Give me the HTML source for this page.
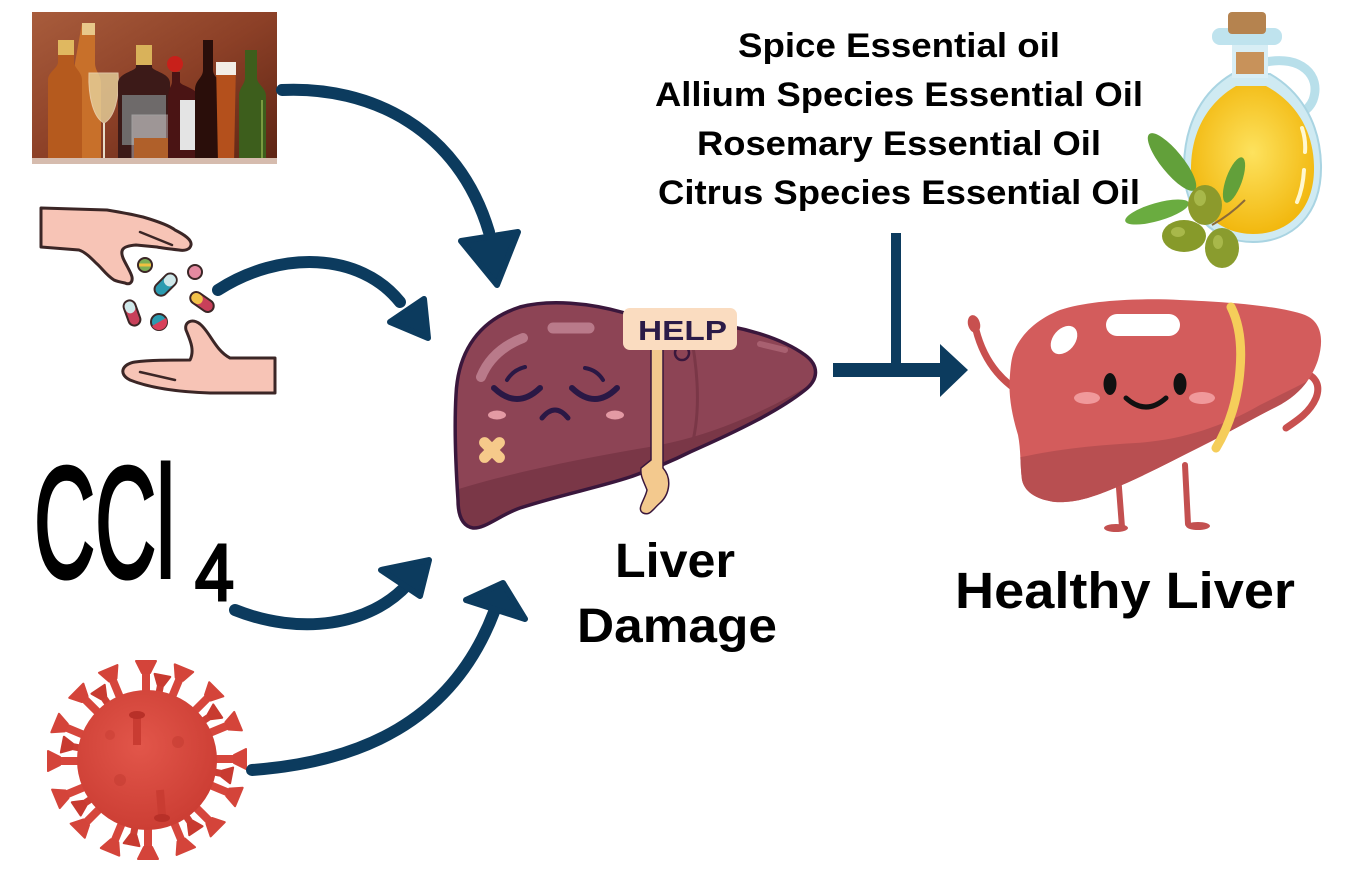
<!DOCTYPE html>
<html>
<head>
<meta charset="utf-8">
<style>
html,body{margin:0;padding:0;background:#fff;}
svg{display:block;}
</style>
</head>
<body>
<svg width="1368" height="884" viewBox="0 0 1368 884" xmlns="http://www.w3.org/2000/svg">
<defs>
  <linearGradient id="bg1" x1="0" y1="0" x2="1" y2="1">
    <stop offset="0" stop-color="#a85c3c"/>
    <stop offset="0.5" stop-color="#8c4027"/>
    <stop offset="1" stop-color="#5c2414"/>
  </linearGradient>
  <radialGradient id="vg" cx="0.45" cy="0.4" r="0.6">
    <stop offset="0" stop-color="#e2564a"/>
    <stop offset="1" stop-color="#cc3e34"/>
  </radialGradient>
  <radialGradient id="oil" cx="0.5" cy="0.45" r="0.55">
    <stop offset="0" stop-color="#fde25e"/>
    <stop offset="1" stop-color="#f2b80f"/>
  </radialGradient>
  <clipPath id="sl">
    <path d="M473,528 C462,526 458,515 458,500 C456,470 454,430 456,395 C458,350 480,320 520,307 C550,299 590,303 625,313 L700,322 C740,326 780,337 805,355 C820,366 818,380 805,390 C780,410 740,430 690,452 C670,462 650,470 630,477 C600,487 560,495 520,508 C500,515 485,529 473,528 Z"/>
  </clipPath>
  <clipPath id="hl">
    <path d="M1016,347 C1025,330 1040,318 1060,310 C1090,300 1140,298 1180,300 C1230,302 1280,306 1305,315 C1322,322 1324,340 1318,360 C1312,378 1300,395 1276,407 C1250,420 1230,432 1200,447 C1170,462 1140,478 1110,490 C1090,498 1075,503 1055,502 C1040,500 1025,494 1022,480 C1020,465 1021,450 1018,435 C1012,415 1008,395 1010,375 C1011,362 1012,355 1016,347 Z"/>
  </clipPath>
  <g id="spk">
    <line x1="200" y1="759" x2="238" y2="759" stroke="#d6463c" stroke-width="8"/>
    <path d="M234,755 L246,749 L246,769 L234,763 Z" fill="#d4443a" stroke="#d4443a" stroke-width="2" stroke-linejoin="round"/>
  </g>
  <g id="spk2">
    <line x1="200" y1="759" x2="226" y2="759" stroke="#cc3e34" stroke-width="7"/>
    <path d="M223,756 L233,751 L233,767 L223,762 Z" fill="#c83a30" stroke="#c83a30" stroke-width="2" stroke-linejoin="round"/>
  </g>
</defs>

<rect width="1368" height="884" fill="#fff"/>

<!-- Bottles photo -->
<rect x="32" y="12" width="245" height="152" fill="url(#bg1)"/>
<path d="M82,23 h13 v40 c0,8 6,12 6,20 v80 h-32 v-80 c0,-8 6,-12 6,-20 z" fill="#c8702a"/>
<rect x="82" y="23" width="13" height="12" fill="#e8c88a"/>
<path d="M58,40 h16 v22 c0,6 8,10 8,18 v83 h-34 v-83 c0,-8 10,-12 10,-18 z" fill="#b55a1e"/>
<rect x="58" y="40" width="16" height="15" fill="#e0b860"/>
<path d="M89,73 h29 c2,25 -4,45 -14,50 c-10,-5 -16,-25 -15,-50 z" fill="#e6d29c" opacity="0.8" stroke="#f0e0c0" stroke-width="1"/>
<line x1="104" y1="123" x2="104" y2="160" stroke="#e8dcc8" stroke-width="2"/>
<path d="M136,45 h16 v22 c0,4 18,6 18,16 v80 h-52 v-80 c0,-10 18,-12 18,-16 z" fill="#3c1a18"/>
<rect x="122" y="95" width="44" height="50" fill="#6e6a6a"/>
<rect x="136" y="45" width="16" height="20" fill="#d9b25a"/>
<rect x="132" y="115" width="47" height="48" fill="#d8cccc" opacity="0.45" stroke="#ddd" stroke-width="1"/>
<rect x="134" y="138" width="43" height="24" fill="#b0602a"/>
<path d="M172,72 h8 v10 c0,4 20,6 20,18 v63 h-32 v-63 c0,-12 4,-14 4,-18 z" fill="#4a1414"/>
<rect x="180" y="100" width="18" height="50" fill="#e4e4e4"/>
<circle cx="175" cy="64" r="8" fill="#c8201a"/>
<path d="M203,40 h10 v30 c0,8 10,10 10,20 v73 h-28 v-73 c0,-10 8,-12 8,-20 z" fill="#2a0e0a"/>
<path d="M216,62 h20 l-2,101 h-16 z" fill="#b4501c"/>
<rect x="216" y="62" width="20" height="13" fill="#f2ede6"/>
<path d="M245,50 h12 v28 c0,6 9,10 9,18 v67 h-27 v-67 c0,-8 6,-12 6,-18 z" fill="#3d5e1c"/>
<line x1="262" y1="100" x2="262" y2="158" stroke="#7a9a40" stroke-width="2"/>
<rect x="32" y="158" width="245" height="6" fill="#d6bcae"/>

<!-- Hands with pills -->
<path d="M41,208 L107,210 C125,213 135,215 143,217 C160,222 170,226 175,230 C185,235 192,240 191,245 C190,250 184,251 179,250 C170,249 162,248 157,247 L136,245 C122,246 120,250 123,258 C126,265 131,272 132,277 C133,283 129,285 125,283 C120,282 116,281 114,280 C106,275 102,268 96,263 C90,257 85,252 79,250 L41,247 Z" fill="#f7c4b6" stroke="#3b2626" stroke-width="3" stroke-linejoin="round"/>
<path d="M140,232 L172,245" stroke="#3b2626" stroke-width="2.5" fill="none" stroke-linecap="round"/>
<path d="M275,358 L275,393 L210,393 C180,392 150,388 130,380 C118,374 122,364 135,362 C150,360 170,360 190,360 C195,350 190,340 186,330 C184,322 192,318 200,324 C210,332 215,350 230,358 Z" fill="#f7c4b6" stroke="#3b2626" stroke-width="3" stroke-linejoin="round"/>
<path d="M140,372 L175,380" stroke="#3b2626" stroke-width="2.5" fill="none" stroke-linecap="round"/>
<!-- pills -->
<circle cx="145" cy="265" r="7" fill="#7cae55" stroke="#3b2626" stroke-width="2"/>
<line x1="139" y1="265" x2="151" y2="265" stroke="#f0c040" stroke-width="3"/>
<circle cx="195" cy="272" r="7" fill="#e58aa0" stroke="#3b2626" stroke-width="2"/>
<g transform="rotate(-45 166 285)">
  <rect x="153" y="278" width="26" height="13" rx="6.5" fill="#2b9bb0" stroke="#3b2626" stroke-width="2"/>
  <rect x="166" y="279" width="12" height="11" rx="5" fill="#cfe8ea"/>
</g>
<g transform="rotate(35 202 302)">
  <rect x="189" y="296" width="26" height="12" rx="6" fill="#c8405a" stroke="#3b2626" stroke-width="2"/>
  <rect x="190" y="297" width="12" height="10" rx="5" fill="#f2c24a"/>
</g>
<g transform="rotate(70 132 313)">
  <rect x="119" y="307" width="26" height="12" rx="6" fill="#c8405a" stroke="#3b2626" stroke-width="2"/>
  <rect x="120" y="308" width="12" height="10" rx="5" fill="#cfe8ea"/>
</g>
<circle cx="159" cy="322" r="8" fill="#2b9bb0" stroke="#3b2626" stroke-width="2"/>
<path d="M152,326 A8,8 0 0 0 166,318 Z" fill="#d8405a"/>

<!-- CCl4 -->
<text x="34" y="577" font-family="'Liberation Sans', sans-serif" font-size="158" textLength="141" lengthAdjust="spacingAndGlyphs" fill="#000" stroke="#000" stroke-width="4">CCl</text>
<text x="195" y="600" font-family="'Liberation Sans', sans-serif" font-size="80" textLength="39" lengthAdjust="spacingAndGlyphs" fill="#000" stroke="#000" stroke-width="3">4</text>

<!-- Virus -->
<g>
  <use href="#spk2" transform="rotate(11 147 760)"/>
  <use href="#spk2" transform="rotate(56 147 760)"/>
  <use href="#spk2" transform="rotate(101 147 760)"/>
  <use href="#spk2" transform="rotate(146 147 760)"/>
  <use href="#spk2" transform="rotate(191 147 760)"/>
  <use href="#spk2" transform="rotate(236 147 760)"/>
  <use href="#spk2" transform="rotate(281 147 760)"/>
  <use href="#spk2" transform="rotate(326 147 760)"/>
  <use href="#spk" transform="rotate(0 147 760)"/>
  <use href="#spk" transform="rotate(22.5 147 760)"/>
  <use href="#spk" transform="rotate(45 147 760)"/>
  <use href="#spk" transform="rotate(67.5 147 760)"/>
  <use href="#spk" transform="rotate(90 147 760)"/>
  <use href="#spk" transform="rotate(112.5 147 760)"/>
  <use href="#spk" transform="rotate(135 147 760)"/>
  <use href="#spk" transform="rotate(157.5 147 760)"/>
  <use href="#spk" transform="rotate(180 147 760)"/>
  <use href="#spk" transform="rotate(202.5 147 760)"/>
  <use href="#spk" transform="rotate(225 147 760)"/>
  <use href="#spk" transform="rotate(247.5 147 760)"/>
  <use href="#spk" transform="rotate(270 147 760)"/>
  <use href="#spk" transform="rotate(292.5 147 760)"/>
  <use href="#spk" transform="rotate(315 147 760)"/>
  <use href="#spk" transform="rotate(337.5 147 760)"/>
  <circle cx="147" cy="760" r="70" fill="url(#vg)"/>
  <line x1="137" y1="745" x2="137" y2="718" stroke="#c93c32" stroke-width="8"/>
  <ellipse cx="137" cy="715" rx="8" ry="4" fill="#b83028"/>
  <line x1="160" y1="790" x2="162" y2="815" stroke="#c93c32" stroke-width="8"/>
  <ellipse cx="162" cy="818" rx="8" ry="4" fill="#b83028"/>
  <circle cx="120" cy="780" r="6" fill="#c23a30" opacity="0.5"/>
  <circle cx="178" cy="742" r="6" fill="#c23a30" opacity="0.5"/>
  <circle cx="110" cy="735" r="5" fill="#c23a30" opacity="0.4"/>
</g>

<!-- Arrows -->
<g stroke="#0c3b5e" fill="none" stroke-width="12" stroke-linecap="round">
  <path d="M282,90 C370,86 458,128 489,232"/>
  <path d="M218,290 C280,250 360,252 400,302"/>
  <path d="M235,610 C300,636 370,626 408,584"/>
  <path d="M252,770 C360,762 452,722 494,612"/>
</g>
<g fill="#0c3b5e" stroke="#0c3b5e" stroke-width="6" stroke-linejoin="round">
  <polygon points="461,241 518,232 497,285"/>
  <polygon points="390,322 424,299 428,338"/>
  <polygon points="381,570 420,596 429,560"/>
  <polygon points="466,600 525,619 503,583"/>
</g>
<!-- T connector -->
<rect x="891" y="233" width="10" height="137" fill="#0c3b5e"/>
<rect x="833" y="363" width="110" height="14" fill="#0c3b5e"/>
<polygon points="940,344 968,370 940,397" fill="#0c3b5e"/>

<!-- Sad liver -->
<path d="M668,393 C685,385 693,370 687,356" stroke="#3a173c" stroke-width="7" fill="none" stroke-linecap="round"/>
<path d="M668,393 C685,385 693,370 687,356" stroke="#8d4455" stroke-width="3" fill="none" stroke-linecap="round"/>
<path d="M473,528 C462,526 458,515 458,500 C456,470 454,430 456,395 C458,350 480,320 520,307 C550,299 590,303 625,313 L700,322 C740,326 780,337 805,355 C820,366 818,380 805,390 C780,410 740,430 690,452 C670,462 650,470 630,477 C600,487 560,495 520,508 C500,515 485,529 473,528 Z" fill="#8d4455"/>
<g clip-path="url(#sl)">
  <path d="M440,495 C490,478 560,462 655,446 C720,434 780,405 830,372 L830,560 L440,560 Z" fill="#7a3747"/>
  <path d="M690,330 C700,380 700,420 690,452" stroke="#7a3747" stroke-width="3" fill="none"/>
</g>
<path d="M473,528 C462,526 458,515 458,500 C456,470 454,430 456,395 C458,350 480,320 520,307 C550,299 590,303 625,313 L700,322 C740,326 780,337 805,355 C820,366 818,380 805,390 C780,410 740,430 690,452 C670,462 650,470 630,477 C600,487 560,495 520,508 C500,515 485,529 473,528 Z" fill="none" stroke="#3a173c" stroke-width="3.5"/>
<path d="M481,377 Q492,350 523,338" stroke="#b97a8a" stroke-width="10" stroke-linecap="round" fill="none"/>
<line x1="553" y1="328" x2="589" y2="328" stroke="#b97a8a" stroke-width="11" stroke-linecap="round"/>
<line x1="760" y1="344" x2="785" y2="350" stroke="#a86070" stroke-width="6" stroke-linecap="round"/>
<!-- face -->
<g stroke="#2a1845" fill="none" stroke-linecap="round">
  <path d="M494,388 Q517,410 540,388" stroke-width="6"/>
  <path d="M572,388 Q595,410 617,388" stroke-width="6"/>
  <path d="M507,380 Q513,370 525,367" stroke-width="4"/>
  <path d="M585,368 Q597,370 603,380" stroke-width="4"/>
  <path d="M542,418 Q555,402 568,418" stroke-width="5"/>
</g>
<ellipse cx="497" cy="415" rx="9" ry="4.5" fill="#e39aa4"/>
<ellipse cx="615" cy="415" rx="9" ry="4.5" fill="#e39aa4"/>
<g transform="translate(492 450)">
  <rect x="-16" y="-5.5" width="32" height="11" rx="5.5" fill="#f6c98a" transform="rotate(45)"/>
  <rect x="-16" y="-5.5" width="32" height="11" rx="5.5" fill="#f6c98a" transform="rotate(-45)"/>
</g>
<!-- gallbladder / sign stick -->
<path d="M651,349 L663,349 L663,468 C672,478 670,494 660,503 C652,510 650,516 643,513 C636,509 645,500 647,490 C644,482 640,476 641,468 L651,460 Z" fill="#f3c98e" stroke="#3a173c" stroke-width="1.5"/>
<circle cx="682" cy="353" r="7" fill="#8d4455" stroke="#3a173c" stroke-width="2.5"/>
<!-- HELP sign -->
<rect x="623" y="308" width="114" height="42" rx="7" fill="#fadcc0"/>
<text x="638" y="340" font-family="'Liberation Sans', sans-serif" font-weight="bold" font-size="28" textLength="89" lengthAdjust="spacingAndGlyphs" fill="#2b1b48">HELP</text>

<!-- Liver Damage label -->
<g font-family="'Liberation Sans', sans-serif" font-weight="bold" fill="#000">
  <text x="615" y="577" font-size="48" textLength="120" lengthAdjust="spacingAndGlyphs">Liver</text>
  <text x="577" y="642" font-size="48" textLength="200" lengthAdjust="spacingAndGlyphs">Damage</text>
</g>

<!-- Essential oil list -->
<g font-family="'Liberation Sans', sans-serif" font-weight="bold" fill="#000" font-size="34">
  <text x="738" y="57" textLength="322" lengthAdjust="spacingAndGlyphs">Spice Essential oil</text>
  <text x="655" y="106" textLength="488" lengthAdjust="spacingAndGlyphs">Allium Species Essential Oil</text>
  <text x="697" y="155" textLength="404" lengthAdjust="spacingAndGlyphs">Rosemary Essential Oil</text>
  <text x="658" y="204" textLength="482" lengthAdjust="spacingAndGlyphs">Citrus Species Essential Oil</text>
</g>

<!-- Olive oil bottle -->
<path d="M1266,62 C1300,55 1322,75 1313,100 C1308,112 1295,118 1283,112" stroke="#b8dfea" stroke-width="9" fill="none" stroke-linecap="round"/>
<path d="M1232,74 C1205,90 1185,120 1184,165 C1183,215 1215,242 1253,242 C1292,242 1322,215 1321,165 C1320,120 1298,90 1270,74 Z" fill="#cfeaf2" stroke="#a9d4e2" stroke-width="2"/>
<path d="M1236,86 C1212,100 1192,126 1191,166 C1190,210 1220,234 1253,234 C1288,234 1315,210 1314,166 C1313,126 1292,100 1266,86 Z" fill="url(#oil)"/>
<rect x="1232" y="38" width="36" height="40" fill="#d8eef5"/>
<rect x="1236" y="52" width="28" height="22" fill="#c8925a"/>
<rect x="1212" y="28" width="70" height="17" rx="8" fill="#bfe3ee"/>
<rect x="1228" y="12" width="38" height="22" rx="4" fill="#b5834f"/>
<path d="M1302,128 Q1306,140 1305,152" stroke="#fff8d0" stroke-width="4" fill="none" stroke-linecap="round"/>
<path d="M1304,170 Q1303,188 1297,202" stroke="#fff8d0" stroke-width="4" fill="none" stroke-linecap="round"/>
<!-- leaves & olives -->
<ellipse cx="1172" cy="162" rx="36" ry="11" fill="#62a03a" transform="rotate(51 1172 162)"/>
<ellipse cx="1157" cy="212" rx="33" ry="9" fill="#6aac40" transform="rotate(-16 1157 212)"/>
<ellipse cx="1234" cy="180" rx="24" ry="8" fill="#62a03a" transform="rotate(-70 1234 180)"/>
<path d="M1212,225 Q1230,215 1245,200" stroke="#8a6a3a" stroke-width="2" fill="none"/>
<ellipse cx="1205" cy="205" rx="17" ry="20" fill="#8c9a2c"/>
<ellipse cx="1184" cy="236" rx="22" ry="16" fill="#879a2a"/>
<ellipse cx="1222" cy="248" rx="17" ry="20" fill="#8a9c2e"/>
<ellipse cx="1200" cy="198" rx="6" ry="8" fill="#a8b84a"/>
<ellipse cx="1178" cy="232" rx="7" ry="5" fill="#a8b84a"/>
<ellipse cx="1218" cy="242" rx="5" ry="7" fill="#a8b84a"/>

<!-- Healthy liver -->
<g stroke="#c35050" stroke-width="6" stroke-linecap="round" fill="none">
  <path d="M1118,475 L1122,527"/>
  <path d="M1185,465 L1188,524"/>
</g>
<ellipse cx="1116" cy="528" rx="12" ry="4" fill="#c35050"/>
<ellipse cx="1198" cy="526" rx="12" ry="4" fill="#c35050"/>
<path d="M1030,398 C1005,385 985,365 976,330" stroke="#c8504f" stroke-width="7" fill="none" stroke-linecap="round"/>
<ellipse cx="974" cy="324" rx="6" ry="9" fill="#c8504f" transform="rotate(-15 974 324)"/>
<path d="M1296,372 C1312,372 1322,382 1316,398 C1310,412 1298,420 1286,428" stroke="#c8504f" stroke-width="7" fill="none" stroke-linecap="round"/>
<path d="M1016,347 C1025,330 1040,318 1060,310 C1090,300 1140,298 1180,300 C1230,302 1280,306 1305,315 C1322,322 1324,340 1318,360 C1312,378 1300,395 1276,407 C1250,420 1230,432 1200,447 C1170,462 1140,478 1110,490 C1090,498 1075,503 1055,502 C1040,500 1025,494 1022,480 C1020,465 1021,450 1018,435 C1012,415 1008,395 1010,375 C1011,362 1012,355 1016,347 Z" fill="#d35c5c"/>
<g clip-path="url(#hl)">
  <path d="M1000,462 C1040,452 1080,446 1136,443 C1180,440 1220,428 1260,405 C1290,390 1310,380 1330,370 L1330,560 L1000,560 Z" fill="#b84f51"/>
</g>
<path d="M1231,307 C1240,325 1242,347 1240,370 C1238,397 1230,425 1216,448" stroke="#f5cd5a" stroke-width="9" fill="none" stroke-linecap="round"/>
<ellipse cx="1064" cy="340" rx="11" ry="16" fill="#fff" transform="rotate(40 1064 340)"/>
<rect x="1106" y="314" width="74" height="22" rx="11" fill="#fff"/>
<ellipse cx="1110" cy="384" rx="6.5" ry="11" fill="#111"/>
<ellipse cx="1180" cy="384" rx="6.5" ry="11" fill="#111"/>
<path d="M1126,398 Q1146,416 1166,398" stroke="#111" stroke-width="5" fill="none" stroke-linecap="round"/>
<ellipse cx="1087" cy="398" rx="13" ry="6" fill="#f0999b"/>
<ellipse cx="1202" cy="398" rx="13" ry="6" fill="#f0999b"/>

<!-- Healthy Liver label -->
<text x="955" y="608" font-family="'Liberation Sans', sans-serif" font-weight="bold" font-size="51" textLength="340" lengthAdjust="spacingAndGlyphs" fill="#000">Healthy Liver</text>
</svg>
</body>
</html>
